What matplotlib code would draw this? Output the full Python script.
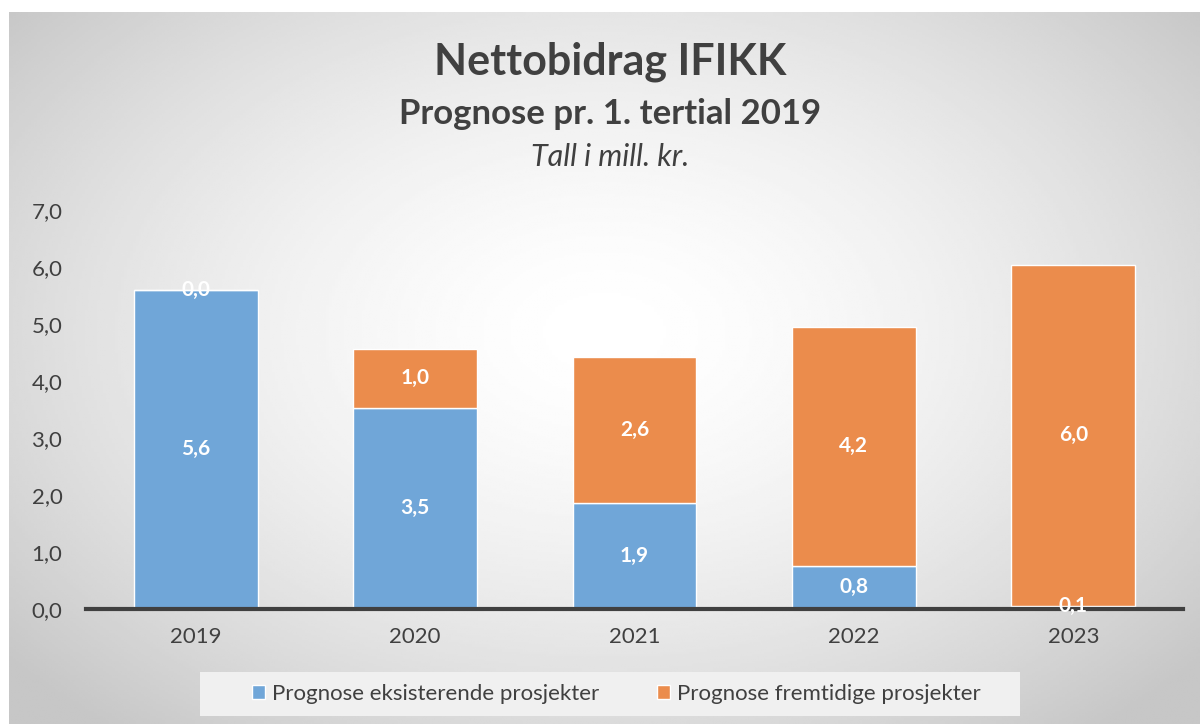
import numpy as np
import matplotlib
matplotlib.use("Agg")
import matplotlib.pyplot as plt
from matplotlib.patches import Rectangle

years = ["2019", "2020", "2021", "2022", "2023"]
eksisterende = [5.6, 3.53, 1.86, 0.76, 0.06]
fremtidige = [0.0, 1.03, 2.56, 4.19, 5.98]
series_names = ["Prognose eksisterende prosjekter", "Prognose fremtidige prosjekter"]
yticks = [0, 1, 2, 3, 4, 5, 6, 7]

blue = "#70a6d8"
orange = "#eb8c4c"
txt = "#404040"
plt.rcParams['font.family'] = ['Lato', 'DejaVu Sans']

fig = plt.figure(figsize=(12, 7.24), dpi=100)

# radial gradient background
bg = fig.add_axes([9 / 1200, 0, 1191 / 1200, 712 / 724], zorder=0)
gx, gy = np.meshgrid(np.linspace(-1, 1, 400), np.linspace(-1, 1, 300))
r = np.sqrt((gx * 1.0) ** 2 + ((gy + 0.1) * 0.9) ** 2)
shade = 1.0 - 0.22 * np.clip(r / 1.3, 0, 1) ** 1.6
bg.imshow(shade, cmap="gray", vmin=0, vmax=1, aspect="auto", extent=[0, 1, 0, 1])
bg.axis("off")

ax = fig.add_axes([86 / 1200, 115 / 724, 1097 / 1200, 399 / 724], zorder=1)
ax.patch.set_alpha(0)
x = np.arange(len(years))
w = 0.565
b1 = ax.bar(x, eksisterende, w, color=blue, edgecolor="white", linewidth=1, label=series_names[0])
b2 = ax.bar(x, fremtidige, w, bottom=eksisterende, color=orange, edgecolor="white", linewidth=1,
            label=series_names[1])

def fmt(v):
    return f"{v:.1f}".replace(".", ",")

for xi, e, f in zip(x, eksisterende, fremtidige):
    ax.text(xi, e / 2 if e > 0.3 else e, fmt(e), ha="center", va="center", color="white",
            fontsize=15, fontweight="bold")
    ax.text(xi, e + f / 2 if f > 0.3 else e + f, fmt(f), ha="center", va="center", color="white",
            fontsize=15, fontweight="bold")

ax.set_xlim(-0.5, 4.5)
ax.set_ylim(0, 7)
ax.set_yticks(yticks)
ax.set_yticklabels([fmt(v) for v in yticks], color=txt, fontsize=16)
ax.set_xticks(x)
ax.set_xticklabels(years, color=txt, fontsize=16)
ax.tick_params(length=0)
ax.tick_params(axis="x", pad=13)
ax.tick_params(axis="y", pad=17)
for s in ["top", "right", "left"]:
    ax.spines[s].set_visible(False)
ax.spines["bottom"].set_color("#404040")
ax.spines["bottom"].set_linewidth(3)

cx = 610 / 1200
fig.text(cx, 1 - 62 / 724, "Nettobidrag IFIKK", ha="center", va="center", fontsize=31,
         fontweight="bold", color=txt)
fig.text(cx, 1 - 114 / 724, "Prognose pr. 1. tertial 2019", ha="center", va="center", fontsize=25,
         fontweight="bold", color=txt)
fig.text(cx, 1 - 157 / 724, "Tall i mill. kr.", ha="center", va="center", fontsize=22,
         style="italic", color=txt)

fig.patches.append(Rectangle((200 / 1200, 8 / 724), 820 / 1200, 44 / 724, transform=fig.transFigure,
                             facecolor="#f0f0f0", edgecolor="none", zorder=1))
leg = fig.legend(handles=[b1, b2], loc="center", bbox_to_anchor=(616 / 1200, 30 / 724), ncol=2,
                 frameon=False, fontsize=16, handlelength=0.6, handleheight=0.6, handletextpad=0.3,
                 columnspacing=2.6, labelcolor=txt)
leg.set_zorder(2)

fig.savefig("out.png", dpi=100)
